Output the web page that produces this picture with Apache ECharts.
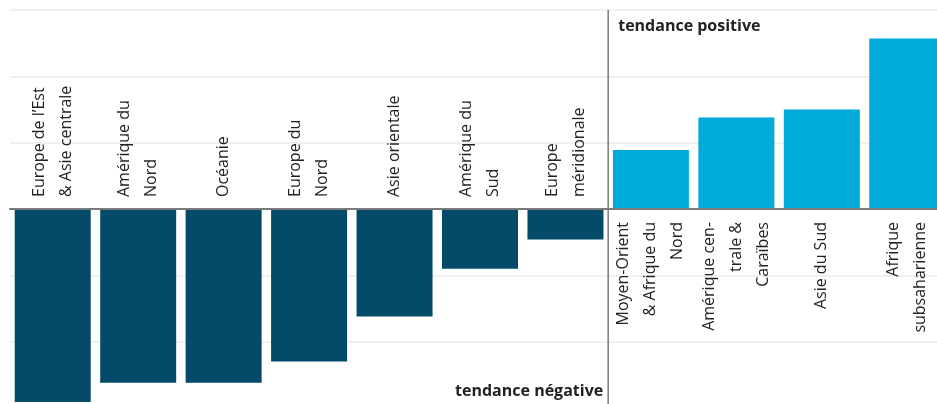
<!DOCTYPE html>
<html>
<head>
<meta charset="utf-8">
<script src="https://cdn.jsdelivr.net/npm/echarts@6/dist/echarts.min.js"></script>
<style>
html,body{margin:0;padding:0;background:#fff;}
#chart{width:937px;height:404px;}
</style>
</head>
<body>
<div id="chart"></div>
<script>
const categories = [
  "Europe de l’Est\n& Asie centrale",
  "Amérique du\nNord",
  "Océanie",
  "Europe du\nNord",
  "Asie orientale",
  "Amérique du\nSud",
  "Europe\nméridionale",
  "Moyen-Orient\n& Afrique du\nNord",
  "Amérique cen-\ntrale &\nCaraïbes",
  "Asie du Sud",
  "Afrique\nsubsaharienne"
];
const values = [-2.91, -2.62, -2.62, -2.30, -1.62, -0.90, -0.46, 0.89, 1.38, 1.50, 2.57];
const yTicks = [-3, -2, -1, 0, 1, 2, 3];
const annotations = ["tendance positive", "tendance négative"];

const NEG = '#034b68', POS = '#00aad9';
const FONT = '"Open Sans", "Noto Sans", sans-serif';
const splitIndex = values.findIndex(v => v > 0);

const chart = echarts.init(document.getElementById('chart'));
const labelBase = {
  show: true,
  rotate: 90,
  verticalAlign: 'middle',
  fontSize: 16,
  lineHeight: 27,
  color: '#222',
  fontFamily: FONT
};
chart.setOption({
  animation: false,
  grid: {left: 10, right: -13, top: 10, bottom: -4, containLabel: false, outerBoundsMode: 'none'},
  xAxis: {
    type: 'category',
    data: categories,
    axisLine: {onZero: true, lineStyle: {color: '#7a7a7a', width: 2}},
    axisTick: {show: false},
    axisLabel: {show: false},
    splitLine: {show: false},
    z: 5
  },
  yAxis: {
    type: 'value',
    min: yTicks[0],
    max: yTicks[yTicks.length - 1],
    interval: 1,
    axisLabel: {show: false},
    axisLine: {show: false},
    axisTick: {show: false},
    splitLine: {show: true, lineStyle: {color: '#ebebeb', width: 1.5}}
  },
  series: [{
    type: 'bar',
    barWidth: 76,
    data: values.map((v, i) => ({
      value: v,
      itemStyle: {color: v < 0 ? NEG : POS},
      label: Object.assign({}, labelBase, v < 0
        ? {position: 'top', align: 'left', distance: 12, formatter: () => categories[i]}
        : {position: 'bottom', align: 'right', distance: 13, formatter: () => categories[i]})
    })),
    z: 2
  }]
});

// divider between negative and positive groups, at the category boundary
const cPrev = chart.convertToPixel({gridIndex: 0}, [splitIndex - 1, 0]);
const cNext = chart.convertToPixel({gridIndex: 0}, [splitIndex, 0]);
const xDiv = (cPrev[0] + cNext[0]) / 2;
const yTop = chart.convertToPixel({gridIndex: 0}, [0, yTicks[yTicks.length - 1]])[1];
chart.setOption({
  graphic: [
    {type: 'line', z: 10, shape: {x1: xDiv, y1: yTop, x2: xDiv, y2: 404},
     style: {stroke: '#7a7a7a', lineWidth: 1.5}},
    {type: 'text', left: xDiv + 10, top: 18, z: 10,
     style: {text: annotations[0], fontSize: 16, fontWeight: 'bold', fill: '#222', fontFamily: FONT}},
    {type: 'text', right: 937 - xDiv + 5, top: 383, z: 10,
     style: {text: annotations[1], fontSize: 16, fontWeight: 'bold', fill: '#222', fontFamily: FONT}}
  ]
});
</script>
</body>
</html>
